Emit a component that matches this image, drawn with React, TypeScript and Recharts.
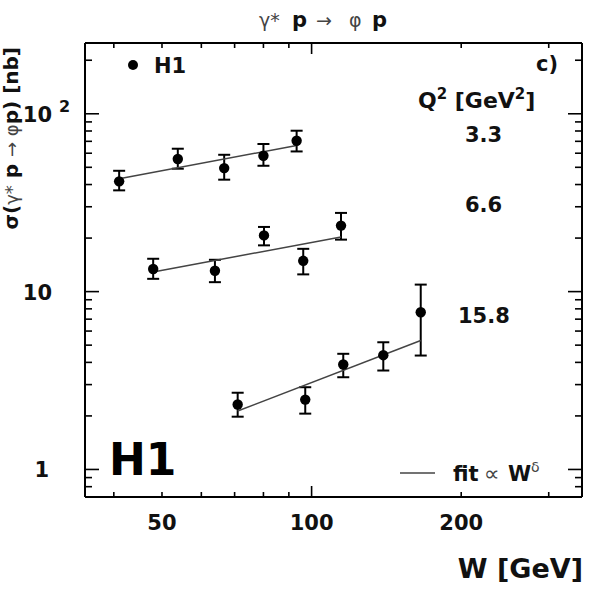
import React from 'react';
import { ComposedChart, Scatter, XAxis, YAxis, ErrorBar } from 'recharts';

// ---- data ----
const W_Q33 = [41.0, 53.8, 66.7, 80.0, 93.3];
const SIG_Q33 = [41.7, 55.7, 49.5, 58.1, 70.5];
const UP_Q33 = [6.1, 7.9, 9.3, 9.5, 9.8];
const DN_Q33 = [4.6, 6.6, 6.9, 7.1, 9.1];

const W_Q66 = [48.0, 63.9, 80.2, 96.2, 114.6];
const SIG_Q66 = [13.4, 13.1, 20.7, 14.9, 23.5];
const UP_Q66 = [1.9, 2.0, 2.4, 2.5, 4.2];
const DN_Q66 = [1.6, 1.8, 2.5, 2.4, 3.9];

const W_Q158 = [71.0, 97.1, 115.8, 139.4, 165.8];
const SIG_Q158 = [2.32, 2.47, 3.89, 4.39, 7.65];
const UP_Q158 = [0.38, 0.43, 0.58, 0.8, 3.3];
const DN_Q158 = [0.34, 0.41, 0.59, 0.79, 3.28];

const FIT_W_Q33 = [41.0, 93.3];
const FIT_SIG_Q33 = [43.1, 66.4];
const FIT_W_Q66 = [48.0, 114.6];
const FIT_SIG_Q66 = [12.9, 20.3];
const FIT_W_Q158 = [71.0, 165.8];
const FIT_SIG_Q158 = [2.13, 5.31];

const X_DOMAIN = [35, 350];
const Y_DOMAIN = [0.7, 250];
const X_TICKS = [40, 50, 60, 70, 80, 90, 100, 200, 300];
const X_LABELS: Record<number, string> = { 50: '50', 100: '100', 200: '200' };
const X_MAJOR = [100];
const Y_TICKS = [0.8, 0.9, 1, 2, 3, 4, 5, 6, 7, 8, 9, 10, 20, 30, 40, 50, 60, 70, 80, 90, 100, 200];
const Y_MAJOR = [1, 10, 100];

const Q2_LABELS = ['3.3', '6.6', '15.8'];

// ---- helpers ----
const pts = (W: number[], S: number[], up: number[], dn: number[]) =>
  W.map((w, i) => ({ W: w, v: S[i], err: [dn[i], up[i]] }));
const line = (W: number[], S: number[]) => W.map((w, i) => ({ W: w, v: S[i] }));

const data33 = pts(W_Q33, SIG_Q33, UP_Q33, DN_Q33);
const data66 = pts(W_Q66, SIG_Q66, UP_Q66, DN_Q66);
const data158 = pts(W_Q158, SIG_Q158, UP_Q158, DN_Q158);
const fit33 = line(FIT_W_Q33, FIT_SIG_Q33);
const fit66 = line(FIT_W_Q66, FIT_SIG_Q66);
const fit158 = line(FIT_W_Q158, FIT_SIG_Q158);

const FONT = '"DejaVu Sans", "Liberation Sans", sans-serif';
const INK = '#111';
const LIGHT = '#444';

const BottomTick = (p: any) => {
  const { x, y, payload } = p;
  const v = payload.value;
  const len = X_MAJOR.includes(v) ? 11 : 5;
  const lab = X_LABELS[v];
  return (
    <g>
      <line x1={x} x2={x} y1={y} y2={y - len} stroke="#000" strokeWidth={1.6} />
      {lab && (
        <text x={x} y={y + 33} textAnchor="middle" fontFamily={FONT} fontWeight="bold" fontSize={21} fill={INK}>
          {lab}
        </text>
      )}
    </g>
  );
};

const TopTick = (p: any) => {
  const { x, y, payload } = p;
  const len = X_MAJOR.includes(payload.value) ? 11 : 5;
  return <line x1={x} x2={x} y1={y} y2={y + len} stroke="#000" strokeWidth={1.6} />;
};

const LeftTick = (p: any) => {
  const { x, y, payload } = p;
  const v = payload.value;
  const major = Y_MAJOR.includes(v);
  const len = major ? 14 : 7;
  return (
    <g>
      <line x1={x} x2={x + len} y1={y} y2={y} stroke="#000" strokeWidth={1.6} />
      {v === 1 && (
        <text x={x - 36} y={y + 8} textAnchor="end" fontFamily={FONT} fontWeight="bold" fontSize={21} fill={INK}>1</text>
      )}
      {v === 10 && (
        <text x={x - 33} y={y + 8} textAnchor="end" fontFamily={FONT} fontWeight="bold" fontSize={21} fill={INK}>10</text>
      )}
      {v === 100 && (
        <g>
          <text x={x - 33} y={y + 8} textAnchor="end" fontFamily={FONT} fontWeight="bold" fontSize={21} fill={INK}>10</text>
          <text x={x - 26} y={y - 2} textAnchor="start" fontFamily={FONT} fontWeight="bold" fontSize={16} fill={INK}>2</text>
        </g>
      )}
    </g>
  );
};

const RightTick = (p: any) => {
  const { x, y, payload } = p;
  const len = Y_MAJOR.includes(payload.value) ? 14 : 7;
  return <line x1={x} x2={x - len} y1={y} y2={y} stroke="#000" strokeWidth={1.6} />;
};

const Dot = (p: any) => <circle cx={p.cx} cy={p.cy} r={5.2} fill="#000" />;
const NoDot = () => <g />;

const axisLine = { stroke: '#000', strokeWidth: 2 };

export default function App() {
  return (
    <div style={{ position: 'absolute', left: 0, top: 0, width: 597, height: 592, background: '#fff' }}>
      <ComposedChart width={597} height={592} margin={{ top: 0, right: 0, bottom: 0, left: 0 }}>
        <XAxis
          xAxisId="b"
          type="number"
          dataKey="W"
          scale="log"
          domain={X_DOMAIN}
          allowDataOverflow
          ticks={X_TICKS}
          interval={0}
          tick={BottomTick}
          tickLine={false}
          tickSize={0}
          tickMargin={0}
          axisLine={axisLine}
          height={95}
          orientation="bottom"
        />
        <XAxis
          xAxisId="t"
          type="number"
          dataKey="W"
          scale="log"
          domain={X_DOMAIN}
          allowDataOverflow
          ticks={X_TICKS}
          interval={0}
          tick={TopTick}
          tickLine={false}
          tickSize={0}
          tickMargin={0}
          axisLine={axisLine}
          height={43}
          orientation="top"
        />
        <YAxis
          yAxisId="l"
          type="number"
          dataKey="v"
          scale="log"
          domain={Y_DOMAIN}
          allowDataOverflow
          ticks={Y_TICKS}
          interval={0}
          tick={LeftTick}
          tickLine={false}
          tickSize={0}
          tickMargin={0}
          axisLine={axisLine}
          width={85}
          orientation="left"
        />
        <YAxis
          yAxisId="r"
          type="number"
          dataKey="v"
          scale="log"
          domain={Y_DOMAIN}
          allowDataOverflow
          ticks={Y_TICKS}
          interval={0}
          tick={RightTick}
          tickLine={false}
          tickSize={0}
          tickMargin={0}
          axisLine={axisLine}
          width={15}
          orientation="right"
        />

        <Scatter xAxisId="b" yAxisId="l" data={fit33} line={{ stroke: LIGHT, strokeWidth: 1.5 }} shape={NoDot} isAnimationActive={false} />
        <Scatter xAxisId="b" yAxisId="l" data={fit66} line={{ stroke: LIGHT, strokeWidth: 1.5 }} shape={NoDot} isAnimationActive={false} />
        <Scatter xAxisId="b" yAxisId="l" data={fit158} line={{ stroke: LIGHT, strokeWidth: 1.5 }} shape={NoDot} isAnimationActive={false} />

        <Scatter xAxisId="b" yAxisId="l" data={data33} shape={Dot} isAnimationActive={false}>
          <ErrorBar dataKey="err" direction="y" width={6} stroke="#000" strokeWidth={2} isAnimationActive={false} />
        </Scatter>
        <Scatter xAxisId="b" yAxisId="l" data={data66} shape={Dot} isAnimationActive={false}>
          <ErrorBar dataKey="err" direction="y" width={6} stroke="#000" strokeWidth={2} isAnimationActive={false} />
        </Scatter>
        <Scatter xAxisId="b" yAxisId="l" data={data158} shape={Dot} isAnimationActive={false}>
          <ErrorBar dataKey="err" direction="y" width={6} stroke="#000" strokeWidth={2} isAnimationActive={false} />
        </Scatter>
        {/* invisible series so the mirror axes are bound */}
        <Scatter xAxisId="t" yAxisId="r" data={fit33} shape={NoDot} isAnimationActive={false} />
      </ComposedChart>

      <svg
        width={597}
        height={592}
        style={{ position: 'absolute', left: 0, top: 0, pointerEvents: 'none' }}
        fontFamily={FONT}
      >
        {/* title */}
        <text y={27} fontSize={21} fill={INK}>
          <tspan x={259} fontWeight="normal" fill={LIGHT} fontSize={19}>γ*</tspan>
          <tspan x={292} fontWeight="bold">p</tspan>
          <tspan x={316} fontWeight="normal" fill={LIGHT} fontSize={19}>→</tspan>
          <tspan x={349} fontWeight="normal" fill={LIGHT} fontSize={19}>φ</tspan>
          <tspan x={372} fontWeight="bold">p</tspan>
        </text>

        {/* y axis title */}
        <text transform="rotate(-90)" x={-47} y={18} textAnchor="end" fontSize={20} fill={INK}>
          <tspan fontWeight="bold">σ(</tspan>
          <tspan fill={LIGHT} fontSize={18}>γ*</tspan>
          <tspan fontWeight="bold"> p </tspan>
          <tspan fill={LIGHT} fontSize={18}>→ φ</tspan>
          <tspan fontWeight="bold">p) [nb]</tspan>
        </text>

        {/* legend */}
        <circle cx={133} cy={65} r={5} fill="#000" />
        <text x={154} y={73} fontSize={21} fontWeight="bold" fill={INK}>H1</text>
        <text x={536} y={71} fontSize={21} fontWeight="bold" fill={INK}>c)</text>

        <text x={418} y={108} fontSize={22} fontWeight="bold" fill={INK}>
          Q<tspan fontSize={15} dy={-9}>2</tspan>
          <tspan dy={9}> [GeV</tspan>
          <tspan fontSize={15} dy={-9}>2</tspan>
          <tspan dy={9}>]</tspan>
        </text>
        <text x={465} y={142} fontSize={21} fontWeight="bold" fill={INK}>{Q2_LABELS[0]}</text>
        <text x={465} y={212} fontSize={21} fontWeight="bold" fill={INK}>{Q2_LABELS[1]}</text>
        <text x={458} y={323} fontSize={21} fontWeight="bold" fill={INK}>{Q2_LABELS[2]}</text>

        {/* big H1 logo text */}
        <text x={109} y={475} fontSize={44} fontWeight="bold" fill="#000">H1</text>

        {/* fit legend */}
        <line x1={400} x2={435} y1={473} y2={473} stroke={LIGHT} strokeWidth={1.5} />
        <text y={481} fontSize={21} fill={INK}>
          <tspan x={453} fontWeight="bold">fit</tspan>
          <tspan x={484} fill={LIGHT} fontSize={22}>∝</tspan>
          <tspan x={508} fontWeight="bold">W</tspan>
          <tspan x={531} dy={-9} fontSize={14} fill={LIGHT}>δ</tspan>
        </text>

        {/* x axis title */}
        <text x={583} y={578} textAnchor="end" fontSize={27} fontWeight="bold" fill={INK}>W [GeV]</text>
      </svg>
    </div>
  );
}
